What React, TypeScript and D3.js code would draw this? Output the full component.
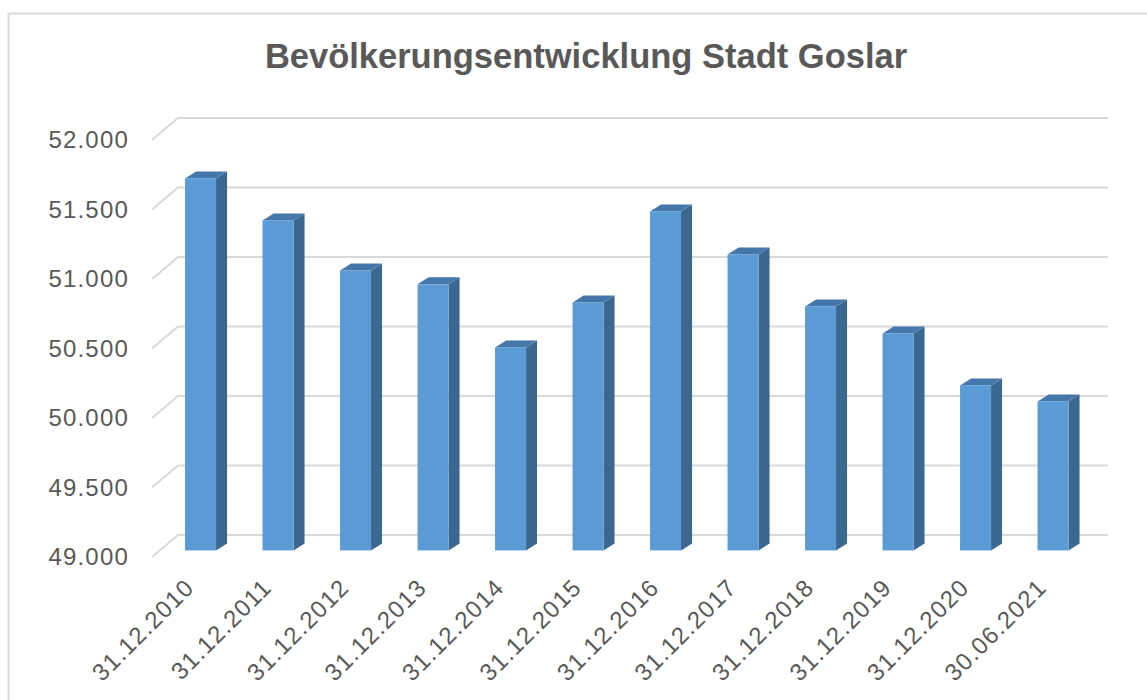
import React from "react";
import * as d3 from "d3";

const categories = [
  "31.12.2010", "31.12.2011", "31.12.2012", "31.12.2013", "31.12.2014", "31.12.2015",
  "31.12.2016", "31.12.2017", "31.12.2018", "31.12.2019", "31.12.2020", "30.06.2021",
];
const population = [51676, 51374, 51014, 50914, 50460, 50784, 51439, 51129, 50755, 50561, 50187, 50072];
const yTicks = [49000, 49500, 50000, 50500, 51000, 51500, 52000];
const title = "Bevölkerungsentwicklung Stadt Goslar";

const W = 1147;
const H = 700;
const FONT = "'Liberation Sans', Arial, sans-serif";
const TEXT = "#595959";
const GRID = "#d9d9d9";

// oblique 3D projection: depth d in [0,1] from front to back wall
const DEPTH_X = 26;
const DEPTH_Y = -22;
const off = (d: number) => ({ x: DEPTH_X * d, y: DEPTH_Y * d });

const fmt = (v: number) => d3.format(",")(v).replace(/,/g, ".");

export default function App() {
  const x = d3.scaleBand<string>().domain(categories).range([154, 1084]).paddingInner(0.6).paddingOuter(0.3);
  const y = d3.scaleLinear().domain([49000, 52000]).range([557, 140]);
  const frontLeft = 152;
  const backRight = 1108;
  const barD = 0.3;
  const bo = off(barD);
  const bdx = 11;
  const bdy = -7;
  const bw = x.bandwidth();

  return (
    <svg width={W} height={H} style={{ position: "absolute", left: 0, top: 0, background: "#fff" }}>
      <rect x={8.5} y={13.5} width={1160} height={720} fill="#fff" stroke={GRID} strokeWidth={2} />
      <text x={586} y={68} textAnchor="middle" fontFamily={FONT} fontWeight="bold" fontSize={34.5} fill={TEXT}>
        {title}
      </text>
      {yTicks.map((t) => {
        const yf = y(t);
        const b = off(1);
        return (
          <g key={t}>
            <polyline
              points={`${frontLeft},${yf} ${frontLeft + b.x},${yf + b.y} ${backRight},${yf + b.y}`}
              fill="none"
              stroke={GRID}
              strokeWidth={2}
            />
            <text x={129} y={yf + 8} textAnchor="end" fontFamily={FONT} fontSize={24} letterSpacing={1.2} fill={TEXT}>
              {fmt(t)}
            </text>
          </g>
        );
      })}
      {categories.map((c, i) => {
        const x0 = (x(c) as number) + bo.x;
        const x1 = x0 + bw;
        const yb = y(49000) + bo.y;
        const yt = y(population[i]) + bo.y;
        return (
          <g key={c}>
            <polygon points={`${x1},${yt} ${x1 + bdx},${yt + bdy} ${x1 + bdx},${yb + bdy} ${x1},${yb}`} fill="#3b6891" />
            <polygon points={`${x0},${yt} ${x0 + bdx},${yt + bdy} ${x1 + bdx},${yt + bdy} ${x1},${yt}`} fill="#4677ab" />
            <rect x={x0} y={yt} width={bw} height={yb - yt} fill="#5b9bd5" />
          </g>
        );
      })}
      {categories.map((c) => {
        const cx = (x(c) as number) + bo.x + bw / 2 - 5;
        const cy = 589;
        return (
          <text
            key={c}
            transform={`translate(${cx},${cy}) rotate(-45)`}
            textAnchor="end"
            fontFamily={FONT}
            fontSize={24}
            letterSpacing={1.2}
            fill={TEXT}
          >
            {c}
          </text>
        );
      })}
    </svg>
  );
}
